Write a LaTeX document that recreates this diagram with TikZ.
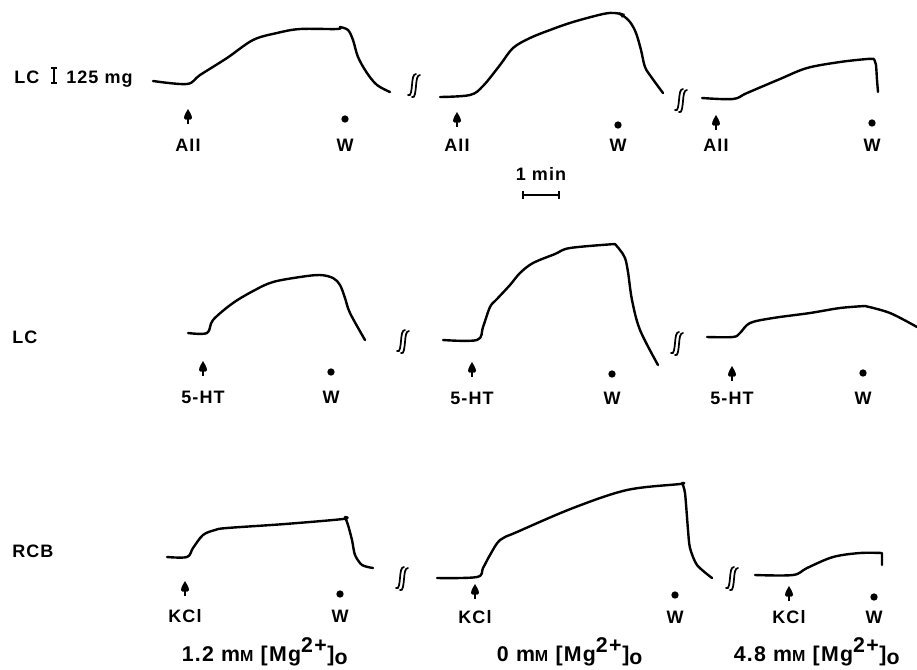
\documentclass[tikz,border=0pt]{standalone}
\usepackage{fontspec}
\setmainfont[LetterSpace=6]{Liberation Sans}
\usetikzlibrary{arrows.meta}
\tikzset{
  trace/.style={line width=1.8pt,line cap=round,line join=round},
  lab/.style={anchor=base,inner sep=0pt,font=\fontsize{13.5}{16}\selectfont\bfseries},
  big/.style={anchor=base,inner sep=0pt,font=\fontsize{16}{19}\selectfont\bfseries},
  wdot/.style={circle,fill=black,inner sep=0pt,minimum size=5.5pt},
  brkline/.style={line width=1.3pt,line cap=round},
  brk/.pic={
    \draw[brkline] (-6,9) .. controls (-3,11) and (-2.5,4) .. (-2,-1) .. controls (-1.5,-7) and (-1,-12) .. (2,-12);
    \draw[brkline] (-2,11) .. controls (1,13) and (1.5,5) .. (2,0) .. controls (2.5,-6) and (3,-11) .. (6,-11);
  },
  mark/.pic={
    \fill (0,-1) .. controls (1.5,1.5) and (4,5.5) .. (4,8) .. controls (4,10) and (1.2,10) .. (0,9.3) .. controls (-1.2,10) and (-4,10) .. (-4,8) .. controls (-4,5.5) and (-1.5,1.5) .. cycle;
    \draw[line width=1.8pt] (0,7) -- (0,14);
  }
}
\newcommand{\mgl}[1]{#1 m{\fontsize{12}{14}\selectfont M} [Mg\textsuperscript{\fontsize{16}{19}\selectfont 2+}]\textsubscript{\fontsize{16}{19}\selectfont o}}
\begin{document}
\begin{tikzpicture}[x=0.75pt,y=-0.75pt]
\useasboundingbox (0,0) rectangle (917,669);
% ---------- row 1 ----------
\node[lab,anchor=base west] (lc1) at (14,83) {LC};
\draw[line width=1.2pt] (51,68) -- (57,68) (54,68) -- (54,83) (51,83) -- (57,83);
\node[lab,anchor=base west] (cal) at (66,83) {125 mg};
\draw[trace] plot[smooth,tension=0.55] coordinates {(153,81) (187,84) (200,75) (227,58) (253,40) (277,33) (300,29) (337,29) (340,27)}
  plot[smooth,tension=0.55] coordinates {(340,27) (348,30) (353,40) (358,57) (367,73) (377,85) (390,92)};
\draw[trace] plot[smooth,tension=0.55] coordinates {(440,97) (470,95) (483,86) (500,65) (513,48) (530,38) (550,30) (573,22) (603,14) (615,13) (622,15) (630,22) (636,33) (641,50) (645,67) (652,78) (663,93)};
\fill (619,12) -- (625,14) -- (622,18) -- cycle;
\draw[trace] plot[smooth,tension=0.55] coordinates {(702,98) (733,99) (747,93) (780,79) (807,68) (840,62) (867,59) (874,59)}
  plot[smooth,tension=0.3] coordinates {(874,59) (876,65) (877,80) (878,92)};
\pic at (414,86) {brk};
\pic at (681,101) {brk};
\pic at (188,110) {mark};
\pic at (457,113) {mark};
\pic at (716,116) {mark};
\node[wdot] (w1d) at (345,119) {};
\node[wdot] (w2d) at (618,125) {};
\node[wdot] (w3d) at (872,123) {};
\node[lab] (a1) at (188,151) {AII};
\node[lab] (a2) at (457,151) {AII};
\node[lab] (a3) at (716,151) {AII};
\node[lab] (w1) at (345,151) {W};
\node[lab] (w2) at (618,151) {W};
\node[lab] (w3) at (872,151) {W};
\node[lab] (min) at (541,180) {1 min};
\draw[line width=1.6pt] (523,195) -- (559,195);
\draw[line width=1.2pt] (523,191) -- (523,199) (559,191) -- (559,199);
% ---------- row 2 ----------
\node[lab,anchor=base west] (lc2) at (12,343) {LC};
\draw[trace] plot[smooth,tension=0.55] coordinates {(188,333) (207,333) (213,320) (233,303) (255,290) (273,282) (300,277) (320,275) (333,278) (340,285) (345,298) (350,313) (365,340)};
\draw[trace] plot[smooth,tension=0.55] coordinates {(443,340) (477,340) (483,327) (490,307) (497,299) (510,285) (520,273) (533,263) (555,254) (570,248) (615,244)}
  plot[smooth,tension=0.55] coordinates {(615,244) (620,250) (625,258) (628,272) (632,300) (640,330) (658,365)};
\draw[trace] plot[smooth,tension=0.55] coordinates {(707,337) (733,337) (740,333) (750,323) (773,318) (810,313) (840,308) (865,306)}
  plot[smooth,tension=0.55] coordinates {(865,306) (890,313) (917,327)};
\pic at (403,342) {brk};
\pic at (677,344) {brk};
\pic at (203,362) {mark};
\pic at (472,363) {mark};
\pic at (732,367) {mark};
\node[wdot] (w4d) at (331,372) {};
\node[wdot] (w5d) at (612,374) {};
\node[wdot] (w6d) at (863,373) {};
\node[lab] (h1) at (203,403) {5-HT};
\node[lab] (h2) at (472,404) {5-HT};
\node[lab] (h3) at (732,404) {5-HT};
\node[lab] (w4) at (331,403) {W};
\node[lab] (w5) at (612,404) {W};
\node[lab] (w6) at (863,404) {W};
% ---------- row 3 ----------
\node[lab,anchor=base west] (rcb) at (12,557) {RCB};
\draw[trace] plot[smooth,tension=0.55] coordinates {(167,557) (187,557) (193,548) (203,535) (215,530) (227,528) (285,524) (343,519) (345,517)}
  plot[smooth,tension=0.45] coordinates {(345,517) (348,525) (352,540) (355,555) (362,565) (373,568)};
\draw[trace] plot[smooth,tension=0.55] coordinates {(437,578) (477,577) (483,568) (490,555) (500,540) (517,532) (573,508) (627,490) (680,484) (682,483)}
  plot[smooth,tension=0.45] coordinates {(682,483) (685,493) (688,530) (690,548) (697,565) (712,578)};
\draw[trace] plot[smooth,tension=0.55] coordinates {(755,575) (793,575) (807,568) (833,557) (860,553) (882,553)}
  -- (882,565);
\pic at (402,579) {brk};
\pic at (732,579) {brk};
\pic at (185,582) {mark};
\pic at (475,585) {mark};
\pic at (789,587) {mark};
\node[wdot] (w7d) at (340,594) {};
\node[wdot] (w8d) at (675,595) {};
\node[wdot] (w9d) at (874,597) {};
\node[lab] (k1) at (185,622) {KCl};
\node[lab] (k2) at (475,623) {KCl};
\node[lab] (k3) at (789,623) {KCl};
\node[lab] (w7) at (340,622) {W};
\node[lab] (w8) at (675,623) {W};
\node[lab] (w9) at (874,623) {W};
\node[big] (m1) at (265,661) {\mgl{1.2}};
\node[big] (m2) at (570,661) {\mgl{0}};
\node[big] (m3) at (817,661) {\mgl{4.8}};
\end{tikzpicture}
\end{document}
